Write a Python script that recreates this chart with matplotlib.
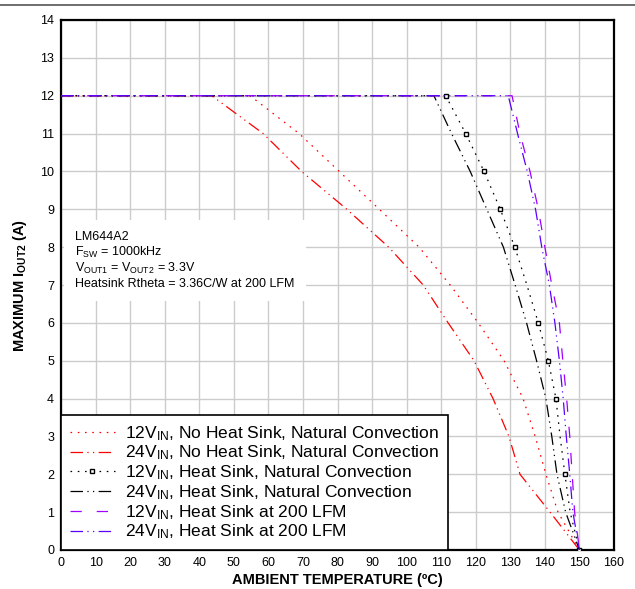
import matplotlib
matplotlib.use("Agg")
import matplotlib.pyplot as plt
from matplotlib.lines import Line2D

plt.rcParams['font.family'] = ['Liberation Sans', 'DejaVu Sans']
plt.rcParams['mathtext.default'] = 'regular'

# ---- data ----
current = [12, 12, 11, 10, 9, 8, 7, 6, 5, 4, 3, 2, 1, 0]
t_12v_nohs = [0, 54.7, 68.9, 80.5, 92.1, 103.6, 112.6, 120.7, 128.2, 133.7, 137.2, 140.3, 143.8, 150]
t_24v_nohs = [0, 43.6, 58.5, 69.6, 82.7, 94.8, 104.8, 112.0, 119.5, 125.0, 129.6, 132.8, 141.5, 150]
t_12v_hs = [0, 111.3, 117.1, 122.4, 127.1, 131.3, 134.8, 138.1, 141.0, 143.2, 144.4, 145.8, 147.3, 150]
t_24v_hs = [0, 107.9, 113.0, 118.4, 123.2, 128.0, 131.4, 134.7, 137.6, 140.3, 142.0, 143.5, 146.0, 150]
t_12v_lfm = [0, 130.5, 132.8, 135.7, 138.1, 140.0, 142.0, 144.2, 145.2, 146.3, 147.2, 147.9, 148.6, 150]
t_24v_lfm = [0, 129.4, 132.1, 134.9, 137.3, 139.1, 141.3, 142.9, 144.2, 145.3, 146.2, 147.2, 148.1, 150]
marker_idx = [1, 2, 3, 4, 5, 7, 8, 9, 11, 13]

labels = [r'12V$_{IN}$, No Heat Sink, Natural Convection',
          r'24V$_{IN}$, No Heat Sink, Natural Convection',
          r'12V$_{IN}$, Heat Sink, Natural Convection',
          r'24V$_{IN}$, Heat Sink, Natural Convection',
          r'12V$_{IN}$, Heat Sink at 200 LFM',
          r'24V$_{IN}$, Heat Sink at 200 LFM']
x_ticks = list(range(0, 161, 10))
y_ticks = list(range(0, 15))
annotation = ("LM644A2\n"
              r"F$_{SW}$ = 1000kHz" "\n"
              r"V$_{OUT1}$ = V$_{OUT2}$ = 3.3V" "\n"
              "Heatsink Rtheta = 3.36C/W at 200 LFM")

fig = plt.figure(figsize=(6.35, 5.89), dpi=100)
ax = fig.add_axes([61/635, 1-550/589, 553/635, 530/589])

dashdot2 = (10, 3.5, 1, 3.5, 1, 3.5)
lw = 0.9
ax.plot(t_12v_nohs, current, color='#ff0000', lw=lw, dashes=(1.3, 4.5), label=labels[0], zorder=3)
ax.plot(t_24v_nohs, current, color='#ff0000', lw=lw, dashes=dashdot2, label=labels[1], zorder=3)
ax.plot(t_12v_hs, current, color='black', lw=lw, dashes=(1.3, 4.5), marker='s', markersize=3.5,
        mfc='white', mec='black', mew=1.0, markevery=marker_idx, label=labels[2], zorder=4)
ax.plot(t_24v_hs, current, color='black', lw=lw, dashes=dashdot2, label=labels[3], zorder=4)
ax.plot(t_12v_lfm, current, color='#a000ff', lw=lw, dashes=(9, 12), label=labels[4], zorder=5)
ax.plot(t_24v_lfm, current, color='#5a00ff', lw=lw, dashes=dashdot2, label=labels[5], zorder=5)

ax.set_xlim(0, 160)
ax.set_ylim(0, 14)
ax.set_xticks(x_ticks)
ax.set_yticks(y_ticks)
ax.tick_params(length=0, labelsize=9, pad=5)
ax.grid(True, color='#cccccc', lw=1.0)
ax.set_axisbelow(True)
for s in ax.spines.values():
    s.set_linewidth(1.6)
    s.set_color('black')

ax.set_xlabel('AMBIENT TEMPERATURE (ºC)', fontsize=10.5, fontweight='bold', labelpad=3)
ax.set_ylabel(r'MAXIMUM I$_{OUT2}$ (A)', fontsize=10.5, fontweight='bold', labelpad=8)

ax.text(0.026, 0.602, annotation, transform=ax.transAxes, fontsize=9, va='top', ha='left',
        linespacing=1.15, zorder=2,
        bbox=dict(facecolor='white', edgecolor='none', pad=8))

leg = ax.legend(loc='lower left', bbox_to_anchor=(0, 0), borderaxespad=0, fontsize=12.5,
                frameon=True, fancybox=False, framealpha=1, edgecolor='black',
                handlelength=2.6, handletextpad=0.6, labelspacing=0.06, borderpad=0.5)
leg.get_frame().set_linewidth(1.2)
leg.set_zorder(10)

fig.add_artist(Line2D([0, 1], [1-4.5/589, 1-4.5/589], transform=fig.transFigure,
                      color='#555555', lw=1.2))

fig.savefig('out.png', dpi=100)
